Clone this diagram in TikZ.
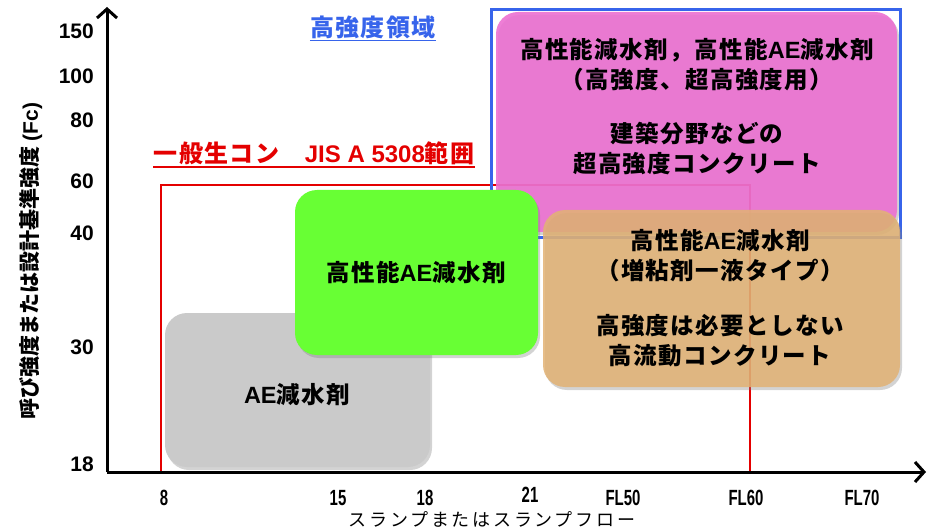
\documentclass[tikz,border=0pt]{standalone}
\usepackage{fontspec}
\setmainfont{Liberation Sans}
\newfontfamily\jp{Noto Sans CJK JP}
\newfontfamily\jpsp{Noto Sans CJK JP}[LetterSpace=6]
\newfontfamily\jpwide{Noto Sans CJK JP}[LetterSpace=15]
\newfontfamily\lat{Liberation Sans}
\usetikzlibrary{arrows.meta,shadows}
\definecolor{pinkc}{RGB}{236,112,210}
\definecolor{greenc}{RGB}{104,255,52}
\definecolor{orangec}{RGB}{226,178,116}
\definecolor{grayc}{RGB}{202,202,202}
\definecolor{bluec}{RGB}{55,100,235}
\definecolor{redc}{RGB}{228,0,0}
\newcommand{\AEtxt}{{\lat\bfseries AE}}
\tikzset{
  region/.style={rectangle, rounded corners=22pt, inner sep=0pt,
    drop shadow={shadow xshift=2pt, shadow yshift=-3pt, opacity=0.35}},
  boxtext/.style={font=\jpsp\bfseries\fontsize{23.5}{30}\selectfont, align=center, inner sep=0pt},
  ytick/.style={anchor=east, font=\bfseries\fontsize{21}{21}\selectfont, inner sep=0pt},
  xtick/.style={anchor=base, font=\bfseries\fontsize{22}{22}\selectfont, inner sep=0pt, text height=15pt, text depth=0pt},
  axis/.style={line width=3pt, -{Straight Barb[length=9pt,width=20pt,line width=3pt]}},
  uline/.style={line width=1.5pt},
}
\begin{document}
\begin{tikzpicture}[x=1pt,y=-1pt]
\useasboundingbox (0,0) rectangle (934,529);
% frames
\node[draw=redc, line width=2pt, minimum width=589pt, minimum height=287pt, inner sep=0pt] (jis) at (455.5,328.5) {};
\node[draw=bluec, line width=3pt, minimum width=409pt, minimum height=228pt, inner sep=0pt] (hs) at (695.5,124) {};
% regions
\node[region, fill=grayc, minimum width=265pt, minimum height=154pt] (ae) at (297.5,390) {};
\node[region, fill=pinkc, fill opacity=0.9, minimum width=401pt, minimum height=220pt] (hp) at (696.5,122) {};
\node[region, fill=greenc, minimum width=243pt, minimum height=165pt] (gr) at (416.5,272.5) {};
\node[region, fill=orangec, fill opacity=0.86, minimum width=357pt, minimum height=177pt] (vs) at (721.5,298.5) {};
% texts in regions
\node[boxtext] (aet) at (297,395) {\AEtxt 減水剤};
\node[boxtext] (grt) at (416,273) {高性能\AEtxt 減水剤};
\node[boxtext] (hpt1) at (697,65) {高性能減水剤，高性能\AEtxt 減水剤\\（高強度、超高強度用）};
\node[boxtext] (hpt2) at (697,149) {建築分野などの\\超高強度コンクリート};
\node[boxtext] (vst1) at (720,256) {高性能\AEtxt 減水剤\\（増粘剤一液タイプ）};
\node[boxtext] (vst2) at (720,341) {高強度は必要としない\\高流動コンクリート};
% titles
\node[font=\jpsp\bfseries\fontsize{24}{24}\selectfont, text=bluec, inner sep=0pt] (hst) at (373,27) {高強度領域};
\draw[uline, bluec] ([yshift=-2pt]hst.south west) -- ([yshift=-2pt]hst.south east);
\node[font=\jpsp\bfseries\fontsize{24}{24}\selectfont, text=redc, inner sep=0pt] (jist) at (314,153) {一般生コン　{\lat\bfseries JIS A 5308}範囲};
\draw[uline, redc] ([yshift=-2pt]jist.south west) -- ([yshift=-2pt]jist.south east);
% axes
\coordinate (O) at (107,472);
\coordinate (ytop) at (107,7);
\coordinate (xend) at (926,472);
\draw[axis] (O) -- (ytop);
\draw[axis] (O) -- (xend);
% y ticks
\node[ytick] (y150) at (94,31) {150};
\node[ytick] (y100) at (94,76) {100};
\node[ytick] (y80) at (94,120) {80};
\node[ytick] (y60) at (94,181) {60};
\node[ytick] (y40) at (94,233) {40};
\node[ytick] (y30) at (94,347) {30};
\node[ytick] (y18) at (94,464) {18};
% x ticks
\node[xtick] (x8) at (164,505) {\scalebox{0.68}[1]{8}};
\node[xtick] (x15) at (338,505) {\scalebox{0.68}[1]{15}};
\node[xtick] (x18) at (425,505) {\scalebox{0.68}[1]{18}};
\node[xtick] (x21) at (530,502) {\scalebox{0.68}[1]{21}};
\node[xtick] (x50) at (623,505) {\scalebox{0.68}[1]{FL50}};
\node[xtick] (x60) at (746,505) {\scalebox{0.68}[1]{FL60}};
\node[xtick] (x70) at (862,505) {\scalebox{0.68}[1]{FL70}};
% axis titles
\node[font=\jpwide\fontsize{18}{18}\selectfont, inner sep=0pt, anchor=base, text height=15pt, text depth=1pt] (xt) at (492,526) {スランプまたはスランプフロー};
\node[font=\jp\bfseries\fontsize{21}{21}\selectfont, inner sep=0pt, rotate=90] (yt) at (31,261) {呼び強度または設計基準強度 {\lat\bfseries (Fc)}};
\end{tikzpicture}
\end{document}
